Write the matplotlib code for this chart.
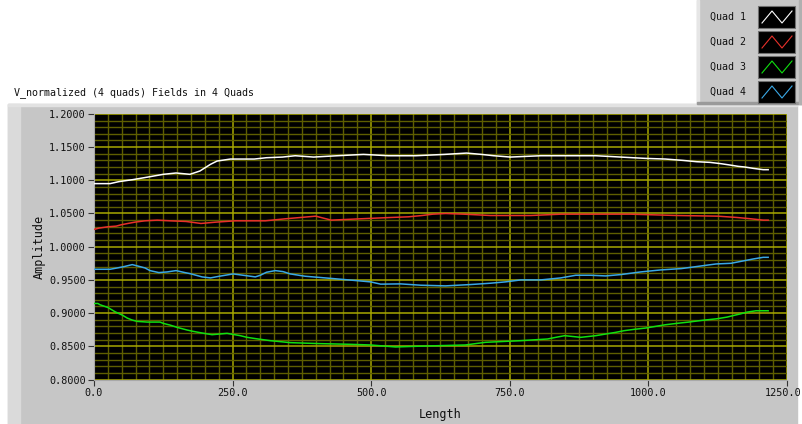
import matplotlib
matplotlib.use("Agg")
import matplotlib.pyplot as plt
import numpy as np
from matplotlib.patches import Rectangle
from matplotlib.ticker import MultipleLocator, FormatStrFormatter, FuncFormatter

# ---- data ----
q1_x = [0, 29, 45, 70, 98, 125, 148, 173, 191, 210, 222, 246, 289, 311, 340, 363, 396, 439, 486, 531,
        580, 632, 672, 699, 721, 751, 806, 905, 950, 995, 1031, 1062, 1087, 1111, 1131, 1147, 1162,
        1174, 1189, 1207, 1216]
q1_y = [1.095, 1.095, 1.098, 1.101, 1.105, 1.109, 1.111, 1.109, 1.114, 1.124, 1.129, 1.132, 1.132, 1.134,
        1.135, 1.137, 1.135, 1.137, 1.139, 1.137, 1.137, 1.139, 1.141, 1.139, 1.137, 1.135, 1.137, 1.137,
        1.135, 1.133, 1.132, 1.130, 1.128, 1.127, 1.125, 1.123, 1.121, 1.120, 1.118, 1.116, 1.116]

q2_x = [0, 9, 25, 40, 49, 61, 74, 92, 114, 137, 166, 193, 220, 255, 309, 345, 400, 428, 480, 535,
        567, 592, 611, 634, 667, 715, 788, 842, 968, 1051, 1125, 1160, 1185, 1207, 1216]
q2_y = [1.026, 1.028, 1.030, 1.031, 1.033, 1.035, 1.037, 1.039, 1.040, 1.039, 1.038, 1.035, 1.037, 1.039,
        1.039, 1.042, 1.046, 1.040, 1.042, 1.044, 1.045, 1.047, 1.049, 1.050, 1.049, 1.047, 1.047, 1.049,
        1.049, 1.047, 1.046, 1.044, 1.042, 1.040, 1.040]

q3_x = [0, 7, 11, 25, 38, 51, 60, 69, 78, 96, 119, 125, 137, 150, 168, 179, 195, 213, 240, 264, 276,
        296, 318, 354, 408, 462, 499, 544, 580, 625, 670, 706, 770, 818, 833, 849, 878, 905, 923, 941,
        956, 974, 995, 1013, 1031, 1051, 1073, 1096, 1124, 1142, 1154, 1167, 1178, 1194, 1216]
q3_y = [0.9145, 0.9145, 0.9125, 0.9085, 0.902, 0.897, 0.8925, 0.8895, 0.8875, 0.8865, 0.8865, 0.8845,
        0.882, 0.8785, 0.8745, 0.8725, 0.870, 0.8675, 0.8695, 0.866, 0.8635, 0.861, 0.8585, 0.8555, 0.854,
        0.853, 0.852, 0.849, 0.850, 0.851, 0.852, 0.856, 0.8585, 0.861, 0.8635, 0.866, 0.8635, 0.866,
        0.8685, 0.871, 0.8735, 0.8755, 0.8775, 0.880, 0.8825, 0.8845, 0.8865, 0.889, 0.8915, 0.894,
        0.8965, 0.899, 0.9015, 0.9035, 0.9035]

q4_x = [0, 29, 42, 54, 69, 83, 92, 101, 117, 132, 148, 164, 173, 184, 195, 210, 226, 251, 278, 291,
        300, 311, 327, 341, 354, 381, 417, 459, 499, 517, 553, 589, 634, 679, 715, 742, 770, 806, 842,
        869, 896, 923, 950, 986, 1022, 1059, 1095, 1122, 1149, 1189, 1207, 1216]
q4_y = [0.966, 0.966, 0.968, 0.970, 0.973, 0.970, 0.968, 0.964, 0.961, 0.962, 0.964, 0.961, 0.9595,
        0.957, 0.9545, 0.953, 0.9555, 0.959, 0.956, 0.9545, 0.957, 0.9615, 0.964, 0.9625, 0.959, 0.9555,
        0.953, 0.950, 0.947, 0.9436, 0.944, 0.942, 0.941, 0.943, 0.945, 0.947, 0.950, 0.950, 0.953,
        0.957, 0.957, 0.956, 0.958, 0.962, 0.965, 0.967, 0.971, 0.974, 0.975, 0.9815, 0.984, 0.984]

names = ["Quad 1", "Quad 2", "Quad 3", "Quad 4"]
colors = ["#ffffff", "#e8302a", "#10e010", "#3aa8e6"]

W, H = 803, 424
mono = "DejaVu Sans Mono"
x_max = 1250

fig = plt.figure(figsize=(W / 100, H / 100), dpi=100)
fig.patch.set_facecolor("white")

# background in pixel coords
bg = fig.add_axes([0, 0, 1, 1], zorder=-1)
bg.set_xlim(0, W)
bg.set_ylim(H, 0)
bg.axis("off")
bg.add_patch(Rectangle((8, 104), 789, 330, color="#c6c6c6"))
bg.add_patch(Rectangle((8, 104), 12, 330, color="#dadada"))
bg.add_patch(Rectangle((8, 104), 789, 2, color="#e2e2e2"))
bg.text(14, 93, "V_normalized (4 quads) Fields in 4 Quads", fontsize=7.2, family=mono,
        va="center", ha="left", color="#111111")

# legend panel
bg.add_patch(Rectangle((697, 0), 106, 104, color="#c8c8c8", zorder=2))
bg.add_patch(Rectangle((697, 0), 2, 104, color="#e6e6e6", zorder=2))
bg.add_patch(Rectangle((697, 102), 106, 2, color="#9a9a9a", zorder=2))
bg.add_patch(Rectangle((799, 0), 4, 104, color="#b0b0b0", zorder=2))
for i, (nm, c) in enumerate(zip(names, colors)):
    yc = 17 + 25 * i
    bg.text(710, yc, nm, fontsize=7.2, family=mono, va="center", ha="left", color="#111111", zorder=3)
    bg.add_patch(Rectangle((758, yc - 11), 37, 22, facecolor="black", edgecolor="#707070", lw=0.8, zorder=3))
    bg.plot([762, 772, 782, 792], [yc + 6, yc - 6, yc + 6, yc - 6], color=c, lw=0.8, zorder=4)

# main plot area
ax = fig.add_axes([94 / W, 1 - 379.5 / H, 693 / W, 265.6 / H])
ax.set_facecolor("black")
for x, y, c in zip([q1_x, q2_x, q3_x, q4_x], [q1_y, q2_y, q3_y, q4_y], colors):
    ax.plot(x, y, color=c, lw=1.1, zorder=3)

ax.set_xlim(0, x_max)
ax.set_ylim(0.8, 1.2)
ax.xaxis.set_major_locator(MultipleLocator(250))
ax.xaxis.set_minor_locator(MultipleLocator(25))
ax.yaxis.set_major_locator(MultipleLocator(0.05))
ax.yaxis.set_minor_locator(MultipleLocator(0.01))
# last x label is drawn by hand so it stays inside the figure
ax.xaxis.set_major_formatter(FuncFormatter(lambda v, p: "" if v >= x_max else f"{v:.1f}"))
ax.yaxis.set_major_formatter(FormatStrFormatter("%.4f"))
ax.grid(which="minor", color="#5e5e00", lw=1.0, zorder=1)
ax.grid(which="major", color="#a8a800", lw=1.1, zorder=2)
ax.set_axisbelow(True)
ax.tick_params(which="minor", length=0)
ax.tick_params(which="major", length=4, width=0.8, color="#333333", pad=2,
               labelsize=7.3, labelcolor="#111111")
for lab in ax.get_xticklabels() + ax.get_yticklabels():
    lab.set_family(mono)
ax.annotate(f"{x_max:.1f}", xy=(x_max, 0), xycoords=("data", "axes fraction"),
            xytext=(-3, -6), textcoords="offset points", ha="center", va="top",
            fontsize=7.3, family=mono, color="#111111")
for s in ["top", "right"]:
    ax.spines[s].set_visible(False)
for s in ["left", "bottom"]:
    ax.spines[s].set_color("#a8a8a8")

ax.set_xlabel("Length", fontsize=8.5, family=mono, color="#111111", labelpad=7)
ax.set_ylabel("Amplitude", fontsize=8.5, family=mono, color="#111111", labelpad=2)

fig.savefig("out.png", dpi=100, facecolor=fig.get_facecolor())
